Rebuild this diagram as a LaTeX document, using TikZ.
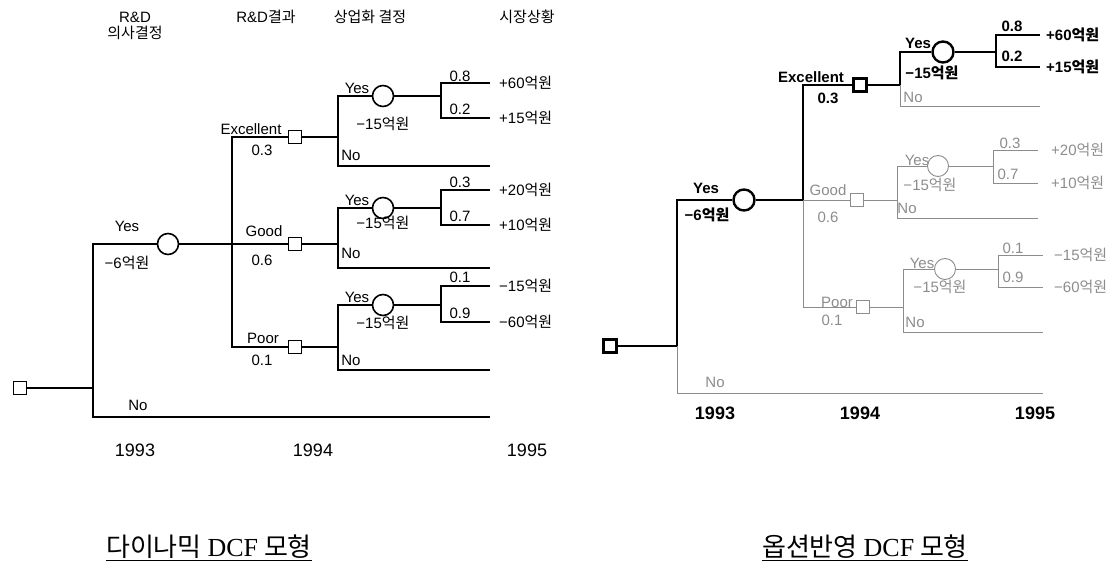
\documentclass[tikz,border=0pt]{standalone}
\usepackage{fontspec}
\setmainfont{Liberation Sans}
\newfontfamily\kr{Noto Sans CJK KR}
\newfontfamily\capserif{Liberation Serif}
\usetikzlibrary{positioning}

\begin{document}
\begin{tikzpicture}[
    x=1pt, y=-1pt,
    dec/.style={draw,rectangle,minimum size=13pt,inner sep=0pt,fill=white,line width=1.6pt},
    chn/.style={draw,circle,minimum size=21pt,inner sep=0pt,fill=white,line width=1.6pt},
    br/.style={line width=1.8pt},
    opt/.style={line width=2.8pt},
    sub/.style={line width=0.9pt,draw=black!45},
    lab/.style={font=\fontsize{15}{17}\selectfont,inner sep=1pt},
    hot/.style={lab,font=\fontsize{15}{17}\selectfont\bfseries},
    dim/.style={lab,text=black!45},
    year/.style={font=\fontsize{18}{20}\selectfont},
    captext/.style={font=\fontsize{26}{28}\selectfont\kr}
]
\useasboundingbox (0,0) rectangle (1113,577);

\node[lab] at (135,17) {R\&D};
\node[lab] at (135,33) {\kr 의사결정};
\node[lab] at (266,17) {R\&D{\kr 결과}};
\node[lab] at (370,17) {\kr 상업화 결정};
\node[lab] at (527,17) {\kr 시장상황};

\node[dec] (L0) at (20,388) {};
\coordinate (L0j) at (93,388);
\node[chn] (L1) at (168,244) {};
\coordinate (L0n) at (490,417);
\draw[br] (L0) -- (L0j) |- (L1);
\draw[br] (L0j) |- (L0n);

\coordinate (L1j) at (232,244);
\node[dec] (LE) at (295,137) {};
\node[dec] (LG) at (295,244) {};
\node[dec] (LP) at (295,347) {};
\draw[br] (L1) -- (L1j) |- (LE);
\draw[br] (L1j) -- (LG);
\draw[br] (L1j) |- (LP);

\coordinate (LEj) at (338,137);
\node[chn] (LEc) at (383,96) {};
\coordinate (LEn) at (490,166);
\coordinate (LEcj) at (441,96);
\coordinate (LEa) at (490,83);
\coordinate (LEb) at (490,118);
\draw[br] (LE) -- (LEj) |- (LEc);
\draw[br] (LEj) |- (LEn);
\draw[br] (LEc) -- (LEcj) |- (LEa);
\draw[br] (LEcj) |- (LEb);

\coordinate (LGj) at (338,244);
\node[chn] (LGc) at (383,208) {};
\coordinate (LGn) at (490,268);
\coordinate (LGcj) at (441,208);
\coordinate (LGa) at (490,190);
\coordinate (LGb) at (490,225);
\draw[br] (LG) -- (LGj) |- (LGc);
\draw[br] (LGj) |- (LGn);
\draw[br] (LGc) -- (LGcj) |- (LGa);
\draw[br] (LGcj) |- (LGb);

\coordinate (LPj) at (338,347);
\node[chn] (LPc) at (383,305) {};
\coordinate (LPn) at (490,370);
\coordinate (LPcj) at (441,305);
\coordinate (LPa) at (490,286);
\coordinate (LPb) at (490,322);
\draw[br] (LP) -- (LPj) |- (LPc);
\draw[br] (LPj) |- (LPn);
\draw[br] (LPc) -- (LPcj) |- (LPa);
\draw[br] (LPcj) |- (LPb);

\node[lab] at (127,226) {Yes};
\node[lab] at (127,263) {−6{\kr 억원}};
\node[lab] at (138,405) {No};
\node[lab] at (251,129) {Excellent};
\node[lab] at (262,150) {0.3};
\node[lab] at (264,231) {Good};
\node[lab] at (262,260) {0.6};
\node[lab] at (263,338) {Poor};
\node[lab] at (262,360) {0.1};

\node[lab] at (357,88) {Yes};
\node[lab] at (351,155) {No};
\node[lab] at (383,124) {−15{\kr 억원}};
\node[lab] at (460,76) {0.8};
\node[lab] at (460,109) {0.2};
\node[lab,right=8pt of LEa] {+60{\kr 억원}};
\node[lab,right=8pt of LEb] {+15{\kr 억원}};

\node[lab] at (357,200) {Yes};
\node[lab] at (351,253) {No};
\node[lab] at (383,223) {−15{\kr 억원}};
\node[lab] at (460,182) {0.3};
\node[lab] at (460,216) {0.7};
\node[lab,right=8pt of LGa] {+20{\kr 억원}};
\node[lab,right=8pt of LGb] {+10{\kr 억원}};

\node[lab] at (357,297) {Yes};
\node[lab] at (351,360) {No};
\node[lab] at (383,323) {−15{\kr 억원}};
\node[lab] at (460,277) {0.1};
\node[lab] at (460,313) {0.9};
\node[lab,right=8pt of LPa] {−15{\kr 억원}};
\node[lab,right=8pt of LPb] {−60{\kr 억원}};

\node[year] at (135,450) {1993};
\node[year] at (313,450) {1994};
\node[year] at (527,450) {1995};

\node[dec,line width=2.4pt] (R0) at (610,346) {};
\coordinate (R0j) at (677,346);
\node[chn,line width=2.4pt] (R1) at (744,200) {};
\coordinate (R0n) at (1043,393);
\draw[opt] (R0) -- (R0j) |- (R1);
\draw[sub] (R0j) |- (R0n);

\coordinate (R1j) at (803,200);
\node[dec,line width=2.4pt] (RE) at (860,85) {};
\node[dec,sub] (RG) at (857,200) {};
\node[dec,sub] (RP) at (863,307) {};
\draw[opt] (R1) -- (R1j) |- (RE);
\draw[sub] (R1j) -- (RG);
\draw[sub] (R1j) |- (RP);

\coordinate (REj) at (900,85);
\node[chn,line width=2.4pt] (REc) at (943,52) {};
\coordinate (REn) at (1040,106);
\coordinate (REcj) at (996,52);
\coordinate (REa) at (1040,35);
\coordinate (REb) at (1040,67);
\draw[opt] (RE) -- (REj) |- (REc);
\draw[sub] (REj) |- (REn);
\draw[opt] (REc) -- (REcj) |- (REa);
\draw[opt] (REcj) |- (REb);

\coordinate (RGj) at (897,200);
\node[chn,sub] (RGc) at (938,166) {};
\coordinate (RGn) at (1038,218);
\coordinate (RGcj) at (993,166);
\coordinate (RGa) at (1038,150);
\coordinate (RGb) at (1038,183);
\draw[sub] (RG) -- (RGj) |- (RGc);
\draw[sub] (RGj) |- (RGn);
\draw[sub] (RGc) -- (RGcj) |- (RGa);
\draw[sub] (RGcj) |- (RGb);

\coordinate (RPj) at (903,307);
\node[chn,sub] (RPc) at (945,269) {};
\coordinate (RPn) at (1043,332);
\coordinate (RPcj) at (998,269);
\coordinate (RPa) at (1043,255);
\coordinate (RPb) at (1043,287);
\draw[sub] (RP) -- (RPj) |- (RPc);
\draw[sub] (RPj) |- (RPn);
\draw[sub] (RPc) -- (RPcj) |- (RPa);
\draw[sub] (RPcj) |- (RPb);

\node[hot] at (706,188) {Yes};
\node[hot] at (707,215) {−6{\kr\bfseries 억원}};
\node[dim] at (715,382) {No};
\node[hot] at (811,77) {Excellent};
\node[hot] at (828,98) {0.3};
\node[dim] at (828,190) {Good};
\node[dim] at (828,217) {0.6};
\node[dim] at (837,302) {Poor};
\node[dim] at (832,320) {0.1};

\node[hot] at (918,43) {Yes};
\node[dim] at (913,97) {No};
\node[hot] at (932,73) {−15{\kr\bfseries 억원}};
\node[hot] at (1012,26) {0.8};
\node[hot] at (1012,56) {0.2};
\node[hot,right=5pt of REa] {+60{\kr\bfseries 억원}};
\node[hot,right=5pt of REb] {+15{\kr\bfseries 억원}};

\node[dim] at (917,160) {Yes};
\node[dim] at (907,208) {No};
\node[dim] at (930,185) {−15{\kr 억원}};
\node[dim] at (1010,143) {0.3};
\node[dim] at (1008,174) {0.7};
\node[dim,right=12pt of RGa] {+20{\kr 억원}};
\node[dim,right=12pt of RGb] {+10{\kr 억원}};

\node[dim] at (922,263) {Yes};
\node[dim] at (915,322) {No};
\node[dim] at (940,287) {−15{\kr 억원}};
\node[dim] at (1013,248) {0.1};
\node[dim] at (1013,277) {0.9};
\node[dim,right=10pt of RPa] {−15{\kr 억원}};
\node[dim,right=10pt of RPb] {−60{\kr 억원}};

\node[year,font=\fontsize{18}{20}\selectfont\bfseries] at (715,413) {1993};
\node[year,font=\fontsize{18}{20}\selectfont\bfseries] at (860,413) {1994};
\node[year,font=\fontsize{18}{20}\selectfont\bfseries] at (1035,413) {1995};

\node[captext] (capL) at (209,548) {\underline{다이나믹 {\capserif DCF} 모형}};
\node[captext] (capR) at (865,548) {\underline{옵션반영 {\capserif DCF} 모형}};

\end{tikzpicture}
\end{document}
